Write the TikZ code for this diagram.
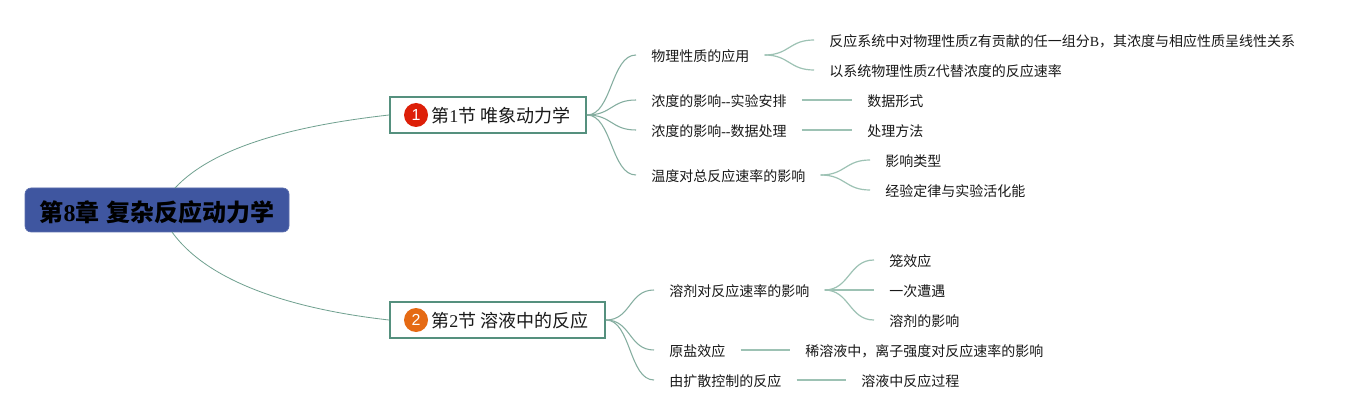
\documentclass[tikz,border=0pt]{standalone}
\usepackage{fontspec}
\setmainfont{Noto Sans CJK SC}
\newfontfamily\lat{Liberation Serif}
\newfontfamily\iconfont{Liberation Sans}
\definecolor{linkc}{HTML}{6FA08F}
\definecolor{leafc}{HTML}{9DC2B4}
\definecolor{boxc}{HTML}{55907E}
\definecolor{rootc}{HTML}{3F56A0}
\definecolor{iconr}{HTML}{DD1F08}
\definecolor{icono}{HTML}{E56A14}
\tikzset{
  x=.75pt,y=-.75pt,
  rootbox/.style={fill=rootc,draw=rootc!85!white,line width=.5pt,rounded corners=4.5pt,minimum width=198pt,minimum height=33pt,inner sep=0pt,text height=19pt,text depth=2.4pt,font=\fontsize{18pt}{20pt}\selectfont\bfseries,text=black},
  secbox/.style={draw=boxc,fill=white,line width=1.5pt,anchor=west,inner xsep=0pt,inner ysep=0pt,minimum height=27pt,text height=14pt,text depth=2.2pt,align=left,font=\fontsize{13.5pt}{16pt}\selectfont,text=black!90},
  item/.style={anchor=west,inner xsep=11.25pt,inner ysep=0pt,text height=11.8pt,text depth=1.7pt,font=\fontsize{10.5pt}{12pt}\selectfont,text=black!90},
  iconnode/.style={circle,inner sep=0pt,minimum size=18pt,text=white,font=\iconfont\fontsize{12pt}{12pt}\selectfont},
  link/.style={draw=linkc,line width=.6pt},
  flink/.style={draw=linkc!85!white,line width=.8pt},
  leaf/.style={draw=leafc,line width=.9pt}
}
\newcommand{\curvelink}[3][flink]{\draw[#1] (#2.east) .. controls +(25,0) and +(-25,0) .. (#3.west);}
\begin{document}
\begin{tikzpicture}
\useasboundingbox[fill=white] (0,0) rectangle (1355,420);
\node[rootbox] (root) at (157,210) {第{\lat 8}章\hspace{5pt}复杂反应动力学};
\coordinate (r1) at (175,188);
\coordinate (r2) at (172,232);
\node[secbox,text width=147pt] (s1) at (389,115) {\hspace*{31pt}第{\lat 1}节\hspace{2.8pt}唯象动力学};
\node[secbox,text width=161.25pt] (s2) at (389,320) {\hspace*{31pt}第{\lat 2}节\hspace{2.8pt}溶液中的反应};
\node[iconnode,fill=iconr] (i1) at (416,115) {1};
\node[iconnode,fill=icono] (i2) at (416,320) {2};
\draw[link] (r1) .. controls (215,145) and (300,125) .. (s1.west);
\draw[link] (r2) .. controls (210,285) and (300,310) .. (s2.west);
% section 1
\node[item] (a1) at (636,55) {物理性质的应用};
\node[item] (a2) at (636,100) {浓度的影响{\lat -{}-}实验安排};
\node[item] (a3) at (636,130) {浓度的影响{\lat -{}-}数据处理};
\node[item] (a4) at (636,175) {温度对总反应速率的影响};
\node[item] (a11) at (814,40) {反应系统中对物理性质{\lat Z}有贡献的任一组分{\lat B}，其浓度与相应性质呈线性关系};
\node[item] (a12) at (814,70) {以系统物理性质{\lat Z}代替浓度的反应速率};
\node[item] (a21) at (852,100) {数据形式};
\node[item] (a31) at (852,130) {处理方法};
\node[item] (a41) at (870,160) {影响类型};
\node[item] (a42) at (870,190) {经验定律与实验活化能};
% section 2
\node[item] (b1) at (654,290) {溶剂对反应速率的影响};
\node[item] (b2) at (654,350) {原盐效应};
\node[item] (b3) at (654,380) {由扩散控制的反应};
\node[item] (b11) at (874,260) {笼效应};
\node[item] (b12) at (874,290) {一次遭遇};
\node[item] (b13) at (874,320) {溶剂的影响};
\node[item] (b21) at (790,350) {稀溶液中，离子强度对反应速率的影响};
\node[item] (b31) at (846,380) {溶液中反应过程};
% connectors
\foreach \t in {a1,a2,a3,a4}{\curvelink{s1}{\t}}
\foreach \t in {b1,b2,b3}{\curvelink{s2}{\t}}
\foreach \t in {a11,a12}{\curvelink[leaf]{a1}{\t}}
\foreach \t in {a41,a42}{\curvelink[leaf]{a4}{\t}}
\foreach \t in {b11,b12,b13}{\curvelink[leaf]{b1}{\t}}
\draw[leaf] (a2.east) -- (a21.west);
\draw[leaf] (a3.east) -- (a31.west);
\draw[leaf] (b2.east) -- (b21.west);
\draw[leaf] (b3.east) -- (b31.west);
\end{tikzpicture}
\end{document}
